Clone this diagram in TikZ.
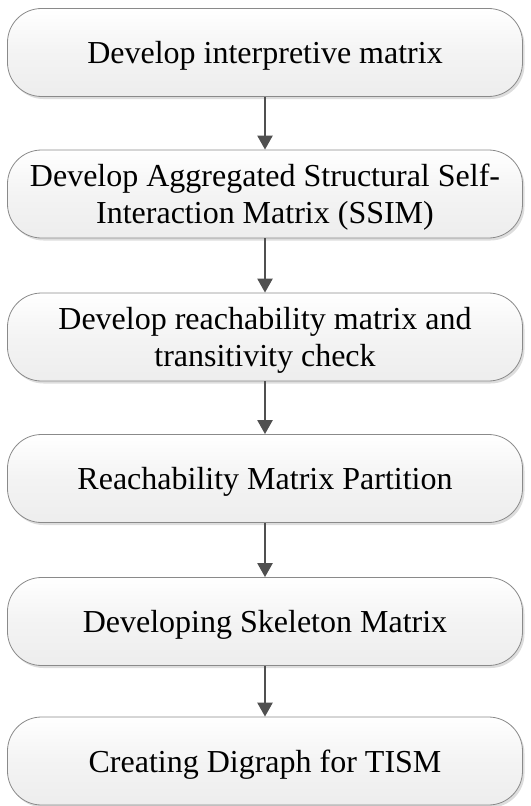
\documentclass[tikz,border=0pt]{standalone}
\usepackage{fontspec}
\setmainfont{Liberation Serif}
\usetikzlibrary{arrows.meta,shadows}
\definecolor{arrowgray}{HTML}{505050}
\definecolor{edgegray}{HTML}{8A8A8A}
\begin{document}
\begin{tikzpicture}[x=1bp,y=-1bp,
  stepbox/.style={draw=edgegray, line width=0.8bp, rounded corners=34bp,
    minimum width=515bp, minimum height=88bp, inner sep=0pt, text depth=0pt,
    top color=white, bottom color=gray!14, middle color=gray!9,
    drop shadow={shadow xshift=2bp, shadow yshift=-2.5bp, fill=gray!45, opacity=0.6},
    align=center, font=\fontsize{32bp}{37bp}\selectfont},
  flow/.style={draw=arrowgray, line width=2.4bp, -{Triangle[width=15bp,length=14bp]}}]
\useasboundingbox (0,0) rectangle (531,806);
\node[stepbox] (s1) at (265,52.5) {Develop interpretive matrix};
\node[stepbox] (s2) at (265,194) {Develop Aggregated Structural Self-\\Interaction Matrix (SSIM)};
\node[stepbox] (s3) at (265,337) {Develop reachability matrix and\\transitivity check};
\node[stepbox] (s4) at (265,478.5) {Reachability Matrix Partition};
\node[stepbox] (s5) at (265,621.5) {Developing Skeleton Matrix};
\node[stepbox] (s6) at (265,761) {Creating Digraph for TISM};
\draw[flow] (s1) -- (s2);
\draw[flow] (s2) -- (s3);
\draw[flow] (s3) -- (s4);
\draw[flow] (s4) -- (s5);
\draw[flow] (s5) -- (s6);
\end{tikzpicture}
\end{document}
